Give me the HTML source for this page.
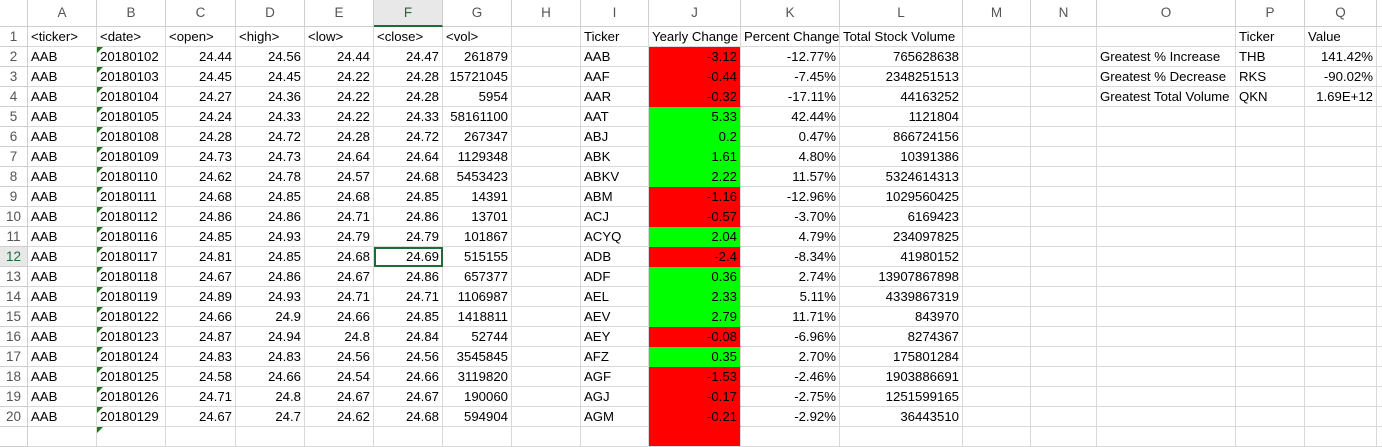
<!DOCTYPE html>
<html><head><meta charset="utf-8"><style>
body{margin:0;width:1382px;height:430px;overflow:hidden;background:#fff;font-family:"Liberation Sans",sans-serif;font-size:13.2px;color:#000}
.c{position:absolute;box-sizing:border-box;border-right:1px solid #d9d9d9;border-bottom:1px solid #d9d9d9;white-space:nowrap;overflow:visible;padding:0 3px;line-height:20px}
.h{color:#555;text-align:center;background:#fff;border-color:#cfcfcf;font-size:13.5px}
.r{text-align:right}
.tri{position:absolute;left:0;top:0;width:0;height:0;border-top:6px solid #1a7a1a;border-right:6px solid transparent}
</style></head><body>
<div id="sheet"></div>
<script>
const cols=["","A","B","C","D","E","F","G","H","I","J","K","L","M","N","O","P","Q","R"];
const edges=[0,28,97,166,236,305,374,443,512,581,649,741,840,963,1031,1097,1236,1305,1377,1400];
const dates=["20180102","20180103","20180104","20180105","20180108","20180109","20180110","20180111","20180112","20180116","20180117","20180118","20180119","20180122","20180123","20180124","20180125","20180126","20180129"];
const opens=["24.44","24.45","24.27","24.24","24.28","24.73","24.62","24.68","24.86","24.85","24.81","24.67","24.89","24.66","24.87","24.83","24.58","24.71","24.67"];
const highs=["24.56","24.45","24.36","24.33","24.72","24.73","24.78","24.85","24.86","24.93","24.85","24.86","24.93","24.9","24.94","24.83","24.66","24.8","24.7"];
const lows=["24.44","24.22","24.22","24.22","24.28","24.64","24.57","24.68","24.71","24.79","24.68","24.67","24.71","24.66","24.8","24.56","24.54","24.67","24.62"];
const closes=["24.47","24.28","24.28","24.33","24.72","24.64","24.68","24.85","24.86","24.79","24.69","24.86","24.71","24.85","24.84","24.56","24.66","24.67","24.68"];
const vols=["261879","15721045","5954","58161100","267347","1129348","5453423","14391","13701","101867","515155","657377","1106987","1418811","52744","3545845","3119820","190060","594904"];
const tickers=["AAB","AAF","AAR","AAT","ABJ","ABK","ABKV","ABM","ACJ","ACYQ","ADB","ADF","AEL","AEV","AEY","AFZ","AGF","AGJ","AGM"];
const yearly=["-3.12","-0.44","-0.32","5.33","0.2","1.61","2.22","-1.16","-0.57","2.04","-2.4","0.36","2.33","2.79","-0.08","0.35","-1.53","-0.17","-0.21"];
const pct=["-12.77%","-7.45%","-17.11%","42.44%","0.47%","4.80%","11.57%","-12.96%","-3.70%","4.79%","-8.34%","2.74%","5.11%","11.71%","-6.96%","2.70%","-2.46%","-2.75%","-2.92%"];
const totals=["765628638","2348251513","44163252","1121804","866724156","10391386","5324614313","1029560425","6169423","234097825","41980152","13907867898","4339867319","843970","8274367","175801284","1903886691","1251599165","36443510"];
const sheet=document.getElementById('sheet');
function rowTop(r){return r===0?0:27+(r-1)*20;}
function rowH(r){return r===0?27:20;}
function cell(ci,r,text,cls,style,name){
  const d=document.createElement('div');
  d.className='c '+(cls||'');
  d.style.left=edges[ci]+'px';d.style.top=rowTop(r)+'px';
  d.style.width=(edges[ci+1]-edges[ci])+'px';d.style.height=rowH(r)+'px';
  if(style)Object.assign(d.style,style);
  d.textContent=text;
  
  
  sheet.appendChild(d);return d;
}
for(let ci=0;ci<cols.length;ci++){
  const h=cell(ci,0,cols[ci],'h',{lineHeight:'26px'},ci===0?'select-all-corner':'column-header-'+cols[ci].toLowerCase());
  if(cols[ci]==='F'){h.style.color='#1e6b3a';h.style.borderBottom='2px solid #1e6b3a';h.style.background='#e8e8e8';}
}
for(let r=1;r<=21;r++){
  const rh=cell(0,r,r<=20?String(r):'','h',{lineHeight:'20px'},'row-header-'+r);
  if(r===12){rh.style.color='#1e6b3a';rh.style.background='#e8e8e8';}
  for(let ci=1;ci<cols.length;ci++){
    let t='',cls='',st=null,nm='cell-'+cols[ci].toLowerCase()+r;
    const i=r-2;
    if(r===1){t=["","<ticker>","<date>","<open>","<high>","<low>","<close>","<vol>","","Ticker","Yearly Change","Percent Change","Total Stock Volume","","","","Ticker","Value",""][ci];}
    else if(r<=20){
      switch(cols[ci]){
        case'A':t='AAB';break;
        case'B':t=dates[i];break;
        case'C':t=opens[i];cls='r';break;
        case'D':t=highs[i];cls='r';break;
        case'E':t=lows[i];cls='r';break;
        case'F':t=closes[i];cls='r';break;
        case'G':t=vols[i];cls='r';break;
        case'I':t=tickers[i];break;
        case'J':t=yearly[i];cls='r';st={background:parseFloat(yearly[i])<0?'#ff0000':'#00ff00',borderBottomColor:'transparent'};break;
        case'K':t=pct[i];cls='r';break;
        case'L':t=totals[i];cls='r';break;
        case'O':t=["Greatest % Increase","Greatest % Decrease","Greatest Total Volume"][i]||'';break;
        case'P':t=["THB","RKS","QKN"][i]||'';break;
        case'Q':t=["141.42%","-90.02%","1.69E+12"][i]||'';cls='r';break;
      }
    } else if(cols[ci]==='J'){st={background:'#ff0000'};}
    const d=cell(ci,r,t,cls,st,nm);
    if(cols[ci]==='B'&&r>=2){const tr=document.createElement('span');tr.className='tri';d.appendChild(tr);}
    if(r===12&&cols[ci]==='F'){d.style.outline='2px solid #1e6b3a';d.style.outlineOffset='-2px';d.style.zIndex=5;}
  }
}
</script>
</body></html>
